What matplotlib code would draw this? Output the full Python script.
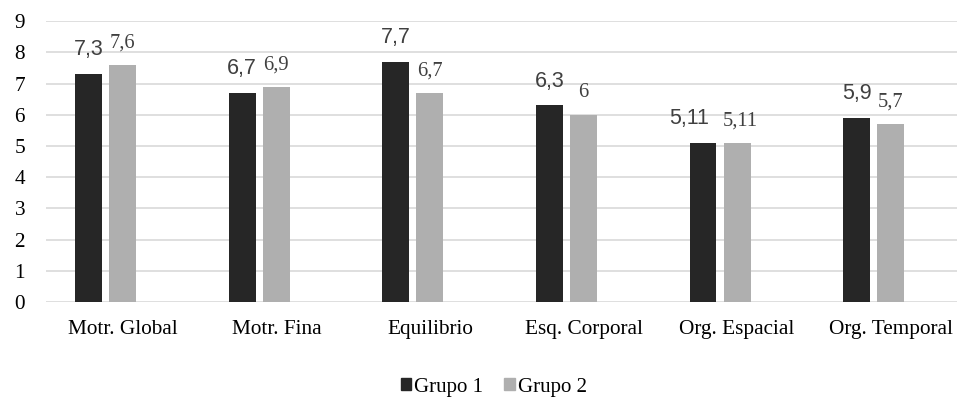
import numpy as np
import matplotlib.pyplot as plt
from matplotlib.patches import Patch

categories = ["Motr. Global", "Motr. Fina", "Equilibrio", "Esq. Corporal",
              "Org. Espacial", "Org. Temporal"]
grupo1 = [7.3, 6.7, 7.7, 6.3, 5.11, 5.9]
grupo2 = [7.6, 6.9, 6.7, 6, 5.11, 5.7]
yticks = list(range(0, 10))

def fmt(v):
    return ("%g" % v).replace(".", ",")

c1 = "#262626"
c2 = "#afafaf"
label_col = "#404040"

fig = plt.figure(figsize=(9.57, 3.99), dpi=100)
ax = fig.add_axes([0.048, 0.243, 0.963, 0.704])

x = np.arange(len(categories))
w = 0.175
step = 0.222
b1 = ax.bar(x - step, grupo1, w, color=c1, zorder=3)
b2 = ax.bar(x, grupo2, w, color=c2, zorder=3)

# labels that would collide get pushed apart sideways (points)
nudge1 = {4: -10}
nudge2 = {4: 2}

for i, (rect, v) in enumerate(zip(b1, grupo1)):
    ax.annotate(fmt(v), (rect.get_x() + rect.get_width() / 2, v),
                xytext=(nudge1.get(i, 0), 10), textcoords="offset points",
                ha="center", va="bottom",
                fontsize=15.5, color=label_col, family="Liberation Sans")
for i, (rect, v) in enumerate(zip(b2, grupo2)):
    ax.annotate(fmt(v), (rect.get_x() + rect.get_width() / 2, v),
                xytext=(nudge2.get(i, 0), 9), textcoords="offset points",
                ha="center", va="bottom",
                fontsize=14.8, color=label_col, family="Liberation Serif")

ax.set_xlim(-0.5, len(categories) - 0.5)
ax.set_ylim(0, 9)
ax.set_yticks(yticks)
ax.set_xticks(x)
ax.set_xticklabels(categories, family="Liberation Serif", fontsize=15.3)
ax.set_yticklabels([str(t) for t in yticks], family="Liberation Serif", fontsize=15.3)
ax.tick_params(axis="y", length=0, pad=15)
ax.tick_params(axis="x", length=0, pad=13)
ax.grid(axis="y", color="#d9d9d9", linewidth=1.2, zorder=0)
for s in ax.spines.values():
    s.set_visible(False)

handles = [Patch(color=c1), Patch(color=c2)]
fig.legend(handles, ["Grupo 1", "Grupo 2"], loc="center", bbox_to_anchor=(0.516, 0.03),
           ncol=2, frameon=False, prop={"family": "Liberation Serif", "size": 15},
           handlelength=0.5, handleheight=0.5, handletextpad=0.15, columnspacing=1.0)

fig.savefig("out.png", dpi=100)
